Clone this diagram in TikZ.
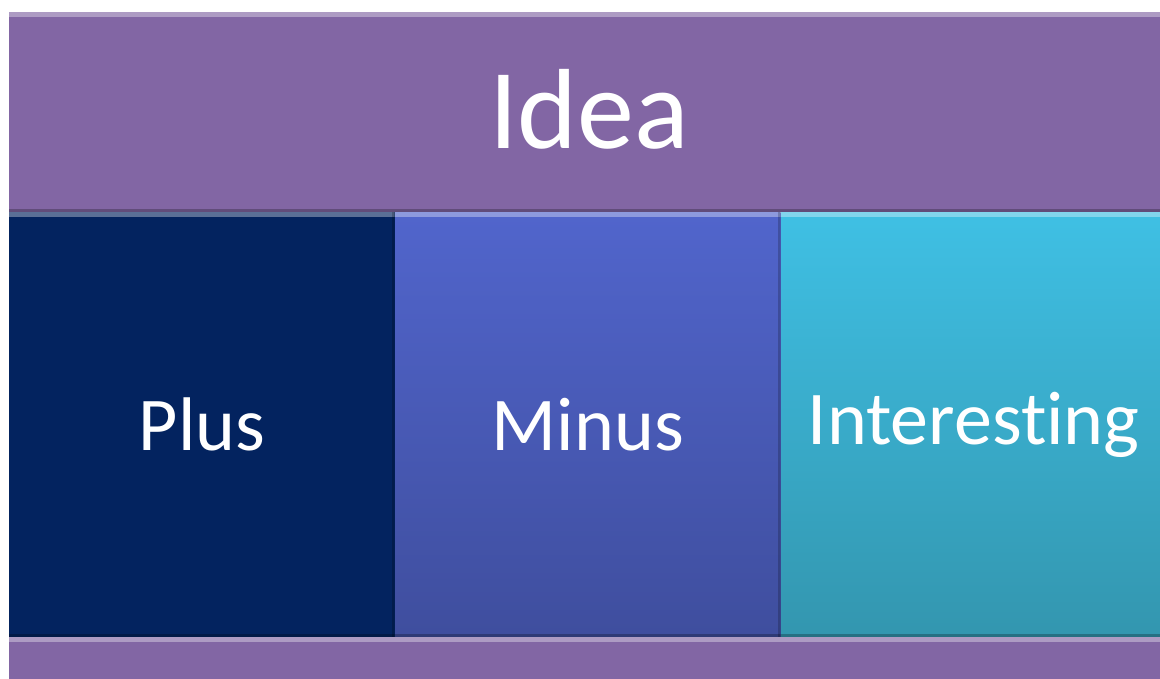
\documentclass[tikz,border=0pt]{standalone}
\usepackage{fontspec}
\setmainfont[Ligatures={NoCommon,NoRare}]{Carlito}
\usetikzlibrary{positioning}

\definecolor{ideapurple}{HTML}{8266A4}
\definecolor{plusnavy}{HTML}{03235F}
\definecolor{minustop}{HTML}{5165CC}
\definecolor{minusbot}{HTML}{3F4E9E}
\definecolor{inttop}{HTML}{3FC0E4}
\definecolor{intbot}{HTML}{3396AF}

\tikzset{
  tile/.style={rectangle,inner sep=0pt,anchor=north west,text=white,
    font=\fontsize{76}{84}\selectfont,
    minimum width=385.5pt,minimum height=425pt},
  bar/.style={tile,minimum width=1160pt,minimum height=200pt},
  bevel/.style={path picture={
    \fill[white,opacity=.35] (path picture bounding box.north west) rectangle
      ([yshift=-5pt]path picture bounding box.north east);
    \fill[black,opacity=.25] (path picture bounding box.south west) rectangle
      ([yshift=3pt]path picture bounding box.south east);
    \fill[black,opacity=.2] (path picture bounding box.north east) rectangle
      ([xshift=-3pt]path picture bounding box.south east);}}
}

\begin{document}
\begin{tikzpicture}[x=1pt,y=-1pt]
\fill[white] (0,0) rectangle (1160,679);
\useasboundingbox (0,0) rectangle (1160,679);
\clip (0,0) rectangle (1160,679);

% top and bottom bars
\node[bar,bevel,fill=ideapurple,font=\fontsize{114}{124}\selectfont] (idea) at (9,12) {\raisebox{7pt}{Idea}};
\node[tile,bevel,fill=plusnavy] (plus) at (9,212) {Plus};
\node[tile,bevel,top color=minustop,bottom color=minusbot,right=0pt of plus] (minus) {Minus};
\node[tile,bevel,top color=inttop,bottom color=intbot,right=0pt of minus] (interesting) {Interesting};
\node[bar,bevel,fill=ideapurple] (base) at (9,637) {};
\end{tikzpicture}
\end{document}
